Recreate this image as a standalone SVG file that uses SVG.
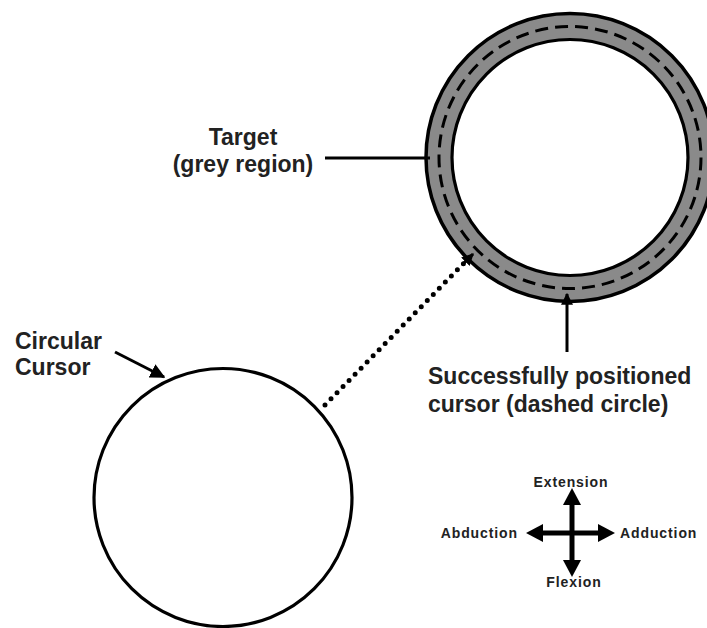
<svg xmlns="http://www.w3.org/2000/svg" width="707" height="628" viewBox="0 0 707 628">
<style>
.lbl{font-family:"Liberation Sans",Arial,sans-serif;font-weight:bold;font-size:23px;fill:#222}
.cmp{font-family:"Liberation Sans",Arial,sans-serif;font-weight:bold;font-size:14px;fill:#222;letter-spacing:0.9px}
.ln{stroke:#000;stroke-width:3;fill:none}
</style>
<defs>
<marker id="ah" viewBox="0 0 10 10" refX="9" refY="5" markerWidth="5" markerHeight="5" orient="auto" markerUnits="strokeWidth">
<path d="M0,0 L10,5 L0,10 Z" fill="#000"/>
</marker>
<marker id="ahs" viewBox="0 0 10 10" refX="9" refY="5" markerWidth="4" markerHeight="4" orient="auto" markerUnits="strokeWidth">
<path d="M0,0 L10,5 L0,10 Z" fill="#000"/>
</marker>
<marker id="ahb" viewBox="0 0 10 10" refX="9" refY="5" markerWidth="4" markerHeight="4" orient="auto" markerUnits="strokeWidth">
<path d="M0,0 L10,5 L0,10 Z" fill="#000"/>
</marker>
</defs>
<rect width="707" height="628" fill="#fff"/>
<g id="target">
<circle cx="570" cy="157.5" r="131" fill="none" stroke="#8a8a8a" stroke-width="26"/>
<circle cx="570" cy="157.5" r="144" fill="none" stroke="#000" stroke-width="3.5"/>
<circle cx="570" cy="157.5" r="118" fill="none" stroke="#000" stroke-width="3.2"/>
<circle id="positioned-cursor" cx="570" cy="157.5" r="131" fill="none" stroke="#000" stroke-width="3" stroke-dasharray="13 7.07"/>
</g>
<g id="circular-cursor">
<circle cx="223" cy="497.5" r="129" fill="none" stroke="#000" stroke-width="3.2"/>
</g>
<g id="label-target">
<text class="lbl" x="243" y="145" text-anchor="middle">Target</text>
<text class="lbl" x="243" y="172" text-anchor="middle">(grey region)</text>
</g>
<g id="label-cursor">
<text class="lbl" x="15" y="349">Circular</text>
<text class="lbl" x="15" y="375">Cursor</text>
</g>
<g id="label-positioned">
<text class="lbl" x="428" y="384">Successfully positioned</text>
<text class="lbl" x="428" y="412">cursor (dashed circle)</text>
</g>
<g id="connectors">
<line class="ln" x1="325" y1="158" x2="430" y2="158"/>
<line class="ln" x1="115" y1="352" x2="164" y2="377" marker-end="url(#ah)"/>
<line x1="325" y1="405" x2="466" y2="261" stroke="#000" stroke-width="5" stroke-linecap="round" stroke-dasharray="0 8.6"/>
<line x1="462" y1="265" x2="473" y2="254" stroke="#000" stroke-width="3" marker-end="url(#ahs)"/>
<line class="ln" x1="567" y1="352" x2="567" y2="294" marker-end="url(#ahb)"/>
</g>
<g id="compass">
<line x1="572" y1="502" x2="572" y2="564" stroke="#000" stroke-width="5"/>
<line x1="540" y1="533" x2="602" y2="533" stroke="#000" stroke-width="5"/>
<polygon points="572,488 581,505 563,505" fill="#000"/>
<polygon points="572,577 581,560 563,560" fill="#000"/>
<polygon points="526,533 543,524 543,542" fill="#000"/>
<polygon points="615,533 598,524 598,542" fill="#000"/>
<text class="cmp" x="571" y="487" text-anchor="middle">Extension</text>
<text class="cmp" x="574" y="587" text-anchor="middle">Flexion</text>
<text class="cmp" x="518" y="538" text-anchor="end">Abduction</text>
<text class="cmp" x="620" y="538">Adduction</text>
</g>
</svg>
